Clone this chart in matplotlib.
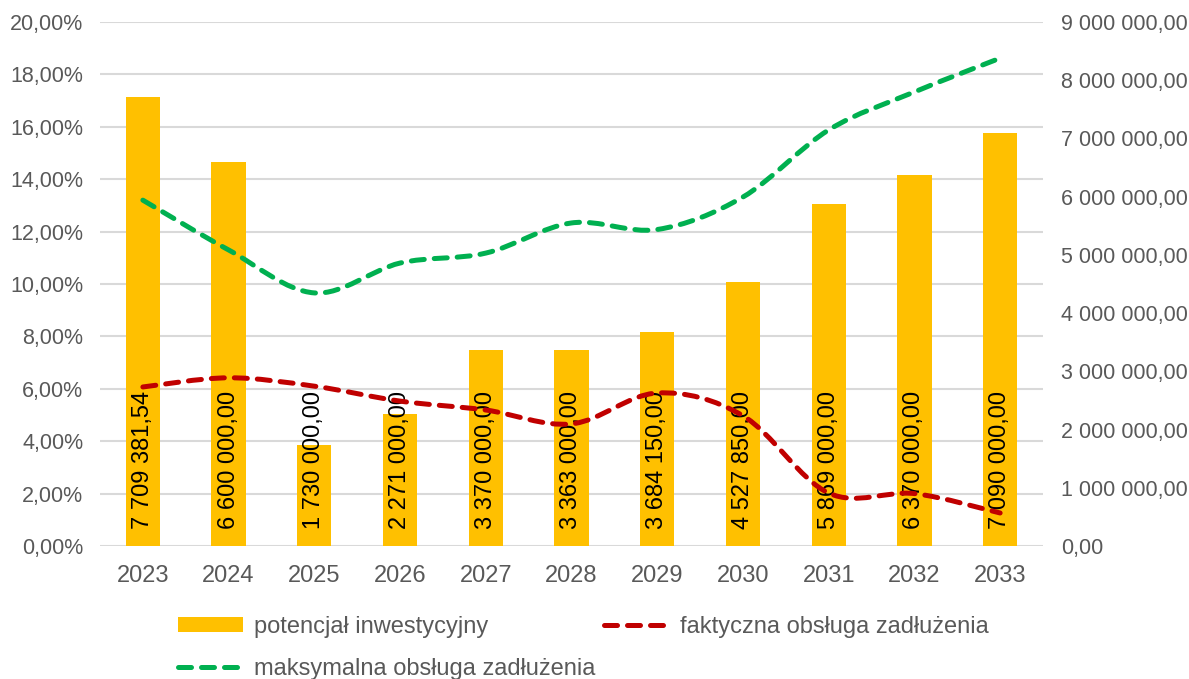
import numpy as np
import matplotlib
matplotlib.use('Agg')
import matplotlib.pyplot as plt
from matplotlib.path import Path
from matplotlib.patches import PathPatch
from matplotlib.lines import Line2D
from matplotlib.patches import Patch
from matplotlib.ticker import FuncFormatter

plt.rcParams['font.family'] = ['Liberation Sans', 'DejaVu Sans']

years = ['2023', '2024', '2025', '2026', '2027', '2028', '2029', '2030', '2031', '2032', '2033']
potencjal = [7709381.54, 6600000.00, 1730000.00, 2271000.00, 3370000.00, 3363000.00,
             3684150.00, 4527850.00, 5869000.00, 6370000.00, 7090000.00]
faktyczna = [6.07, 6.42, 6.10, 5.53, 5.19, 4.66, 5.84, 4.97, 2.02, 2.00, 1.26]
maksymalna = [13.20, 11.30, 9.66, 10.80, 11.18, 12.33, 12.08, 13.32, 15.88, 17.33, 18.62]

label_bar = 'potencjał inwestycyjny'
label_fakt = 'faktyczna obsługa zadłużenia'
label_maks = 'maksymalna obsługa zadłużenia'

c_bar = '#FFC000'
c_red = '#C00000'
c_green = '#00B050'
c_txt = '#595959'
c_grid = '#D9D9D9'

lw = 3.6
dash = (0, (2.6, 2.0))


def smooth_path(xs, ys):
    # Excel-like smoothed line: Catmull-Rom segments written as cubic Bezier
    pts = np.column_stack([np.asarray(xs, float), np.asarray(ys, float)])
    verts = [pts[0]]
    codes = [Path.MOVETO]
    n = len(pts)
    for i in range(n - 1):
        p0 = pts[i - 1] if i > 0 else pts[i]
        p1 = pts[i]
        p2 = pts[i + 1]
        p3 = pts[i + 2] if i + 2 < n else pts[i + 1]
        verts += [p1 + (p2 - p0) / 6.0, p2 - (p3 - p1) / 6.0, p2]
        codes += [Path.CURVE4] * 3
    return Path(verts, codes)


def money(v, pos=None):
    s = '{:,.2f}'.format(v)
    return s.replace(',', ' ').replace('.', ',')


fig = plt.figure(figsize=(11.89, 6.79), dpi=100)
ax = fig.add_axes([100 / 1189, 1 - 546 / 679, 943 / 1189, 524 / 679])
x = np.arange(len(years))

# left axis: percentages + grid
ax.set_ylim(0, 20)
ax.set_yticks(np.arange(0, 21, 2))
ax.yaxis.set_major_formatter(FuncFormatter(lambda v, p: '{:.2f}%'.format(v).replace('.', ',')))
ax.grid(axis='y', color=c_grid, linewidth=1.5)
ax.set_axisbelow(True)
ax.set_xlim(-0.5, len(years) - 0.5)
ax.set_xticks(x)
ax.set_xticklabels(years)
ax.tick_params(axis='both', length=0, colors=c_txt)
ax.tick_params(axis='y', pad=12, labelsize=15.5)
ax.tick_params(axis='x', pad=14, labelsize=17)

# right axis: bars
ax2 = ax.twinx()
ax2.set_ylim(0, 9000000)
ax2.set_yticks(np.arange(0, 9000001, 1000000))
ax2.yaxis.set_major_formatter(FuncFormatter(money))
ax2.tick_params(axis='y', length=0, labelsize=15.5, colors=c_txt, pad=13)
ax2.bar(x, potencjal, width=0.4, color=c_bar, zorder=2)
for xi, v in zip(x, potencjal):
    ax2.annotate(money(v), (xi, 0), xytext=(0, 12), textcoords='offset points',
                 rotation=90, ha='center', va='bottom', fontsize=17, color='black', zorder=3)

# lines on top
ax3 = ax.twinx()
ax3.set_ylim(0, 20)
ax3.set_yticks([])
for ys, col in [(maksymalna, c_green), (faktyczna, c_red)]:
    patch = PathPatch(smooth_path(x, ys), facecolor='none', edgecolor=col, linewidth=lw,
                      linestyle=dash, capstyle='round')
    ax3.add_patch(patch)

for a in (ax, ax2, ax3):
    for s in a.spines.values():
        s.set_visible(False)

handles = [Patch(facecolor=c_bar, edgecolor='none'),
           Line2D([], [], color=c_green, linewidth=lw, linestyle=dash, dash_capstyle='round'),
           Line2D([], [], color=c_red, linewidth=lw, linestyle=dash, dash_capstyle='round')]
labels = [label_bar, label_maks, label_fakt]
fig.legend(handles, labels, ncol=2, loc='upper left', bbox_to_anchor=(178 / 1189, 1 - 616 / 679),
           frameon=False, fontsize=17, labelcolor=c_txt, handlelength=2.75, handleheight=0.6,
           handletextpad=0.45, columnspacing=0.4, labelspacing=0.85, borderpad=0, borderaxespad=0)

fig.savefig('out.png', dpi=100)
